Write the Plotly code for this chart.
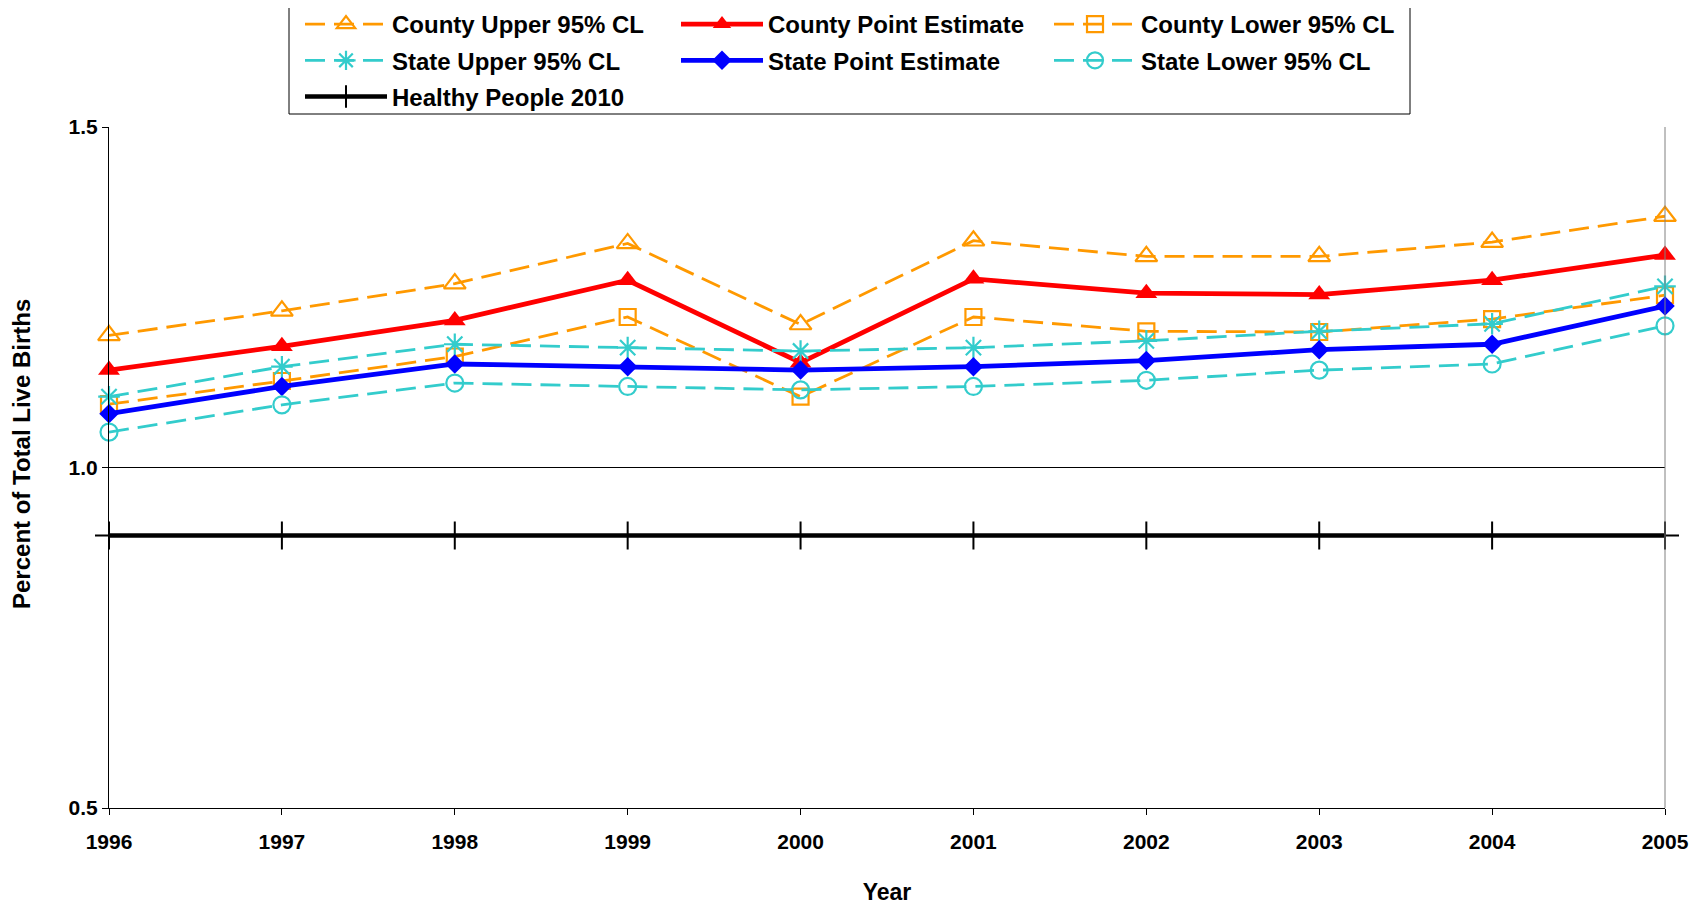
import plotly.graph_objects as go

years = [1996, 1997, 1998, 1999, 2000, 2001, 2002, 2003, 2004, 2005]
county_upper = [1.194, 1.230, 1.270, 1.329, 1.210, 1.333, 1.310, 1.310, 1.331, 1.369]
county_point = [1.143, 1.178, 1.216, 1.275, 1.154, 1.277, 1.256, 1.254, 1.275, 1.312]
county_lower = [1.093, 1.127, 1.163, 1.221, 1.104, 1.221, 1.200, 1.199, 1.218, 1.253]
state_upper = [1.104, 1.148, 1.181, 1.176, 1.171, 1.176, 1.186, 1.200, 1.211, 1.266]
state_point = [1.079, 1.119, 1.152, 1.148, 1.143, 1.148, 1.157, 1.173, 1.181, 1.237]
state_lower = [1.052, 1.092, 1.124, 1.119, 1.114, 1.119, 1.128, 1.143, 1.152, 1.208]
healthy_people = [0.9, 0.9, 0.9, 0.9, 0.9, 0.9, 0.9, 0.9, 0.9, 0.9]

y_ticks = [0.5, 1.0, 1.5]

ORANGE = "#FF9900"
CYAN = "#33CCCC"
RED = "#FF0000"
BLUE = "#0000FF"
DASH = "20px,9px"
FONT = "Liberation Sans, Arial, sans-serif"

fig = go.Figure()

def add(name, y, color, width, dash, symbol, size, legend, filled):
    marker = dict(symbol=symbol, size=size, color=color,
                  line=dict(color=color, width=2.2 if not filled else 0))
    fig.add_trace(go.Scatter(
        x=years, y=y, name=name, mode="lines+markers",
        line=dict(color=color, width=width, dash=dash),
        marker=marker, cliponaxis=False, legend=legend, legendgroup=name,
    ))

add("County Upper 95% CL", county_upper, ORANGE, 2.8, DASH, "triangle-up-open", 19, "legend", False)
add("County Point Estimate", county_point, RED, 4.8, "solid", "triangle-up", 19, "legend2", True)
add("County Lower 95% CL", county_lower, ORANGE, 2.8, DASH, "square-open", 16, "legend3", False)
add("State Upper 95% CL", state_upper, CYAN, 2.8, DASH, "asterisk-open", 18, "legend", False)
add("State Point Estimate", state_point, BLUE, 4.8, "solid", "diamond", 15, "legend2", True)
add("State Lower 95% CL", state_lower, CYAN, 2.8, DASH, "circle-open", 17, "legend3", False)
fig.add_trace(go.Scatter(
    x=years, y=healthy_people, name="Healthy People 2010", mode="lines+markers",
    line=dict(color="black", width=4.5),
    marker=dict(symbol="cross-thin-open", size=20, color="black", line=dict(color="black", width=2)),
    cliponaxis=False, legend="legend", legendgroup="hp",
))

# page body has an 8px margin; figure sized so the page matches the 1703x909 window
OFF = 8
W, H = 1703 - OFF, 909 - OFF
L, R, T, B = 109 - OFF, 38, 127 - OFF, 101
pw, ph = W - L - R, H - T - B

def px(x):
    return (x - OFF - L) / pw

def py(y):
    return (H - B - (y - OFF)) / ph

leg_common = dict(
    font=dict(family=FONT, size=24, color="black", weight="bold"),
    orientation="v", traceorder="grouped", tracegroupgap=2,
    itemwidth=82, bgcolor="rgba(0,0,0,0)", borderwidth=0,
    xanchor="left", yanchor="top", y=py(2),
)

fig.update_layout(
    width=W, height=H,
    margin=dict(l=L, r=R, t=T, b=B, autoexpand=False),
    paper_bgcolor="white", plot_bgcolor="white",
    font=dict(family=FONT, color="black"),
    showlegend=True,
    legend=dict(x=px(300), **leg_common),
    legend2=dict(x=px(676), **leg_common),
    legend3=dict(x=px(1049), **leg_common),
    xaxis=dict(
        range=[1996, 2005], tickvals=years, ticktext=[str(y) for y in years],
        showline=True, linecolor="black", linewidth=1,
        ticks="outside", ticklen=6, tickcolor="black",
        showgrid=False, zeroline=False,
        tickfont=dict(family=FONT, size=21, color="black", weight="bold"),
        ticklabelstandoff=9,
        title=dict(text="Year", font=dict(family=FONT, size=23, color="black", weight="bold"), standoff=31),
    ),
    yaxis=dict(
        range=[0.5, 1.5], tickvals=y_ticks, tickformat=".1f",
        showline=True, linecolor="black", linewidth=1,
        ticks="outside", ticklen=6, tickcolor="black",
        showgrid=True, gridcolor="black", gridwidth=1, zeroline=False,
        tickfont=dict(family=FONT, size=21, color="black", weight="bold"),
    ),
    annotations=[dict(
        text="Percent of Total Live Births", textangle=-90,
        xref="paper", yref="paper", x=px(22), y=py(454),
        xanchor="center", yanchor="middle", showarrow=False,
        font=dict(family=FONT, size=24, color="black", weight="bold"),
    )],
    shapes=[
        dict(type="rect", xref="paper", yref="paper",
             x0=px(289), x1=px(1410), y0=py(114), y1=py(4),
             line=dict(color="black", width=1), fillcolor="rgba(0,0,0,0)", layer="above"),
        dict(type="line", xref="paper", yref="paper", x0=1, x1=1, y0=0, y1=1,
             line=dict(color="#808080", width=1)),
    ],
)

fig.write_html("out.html")
